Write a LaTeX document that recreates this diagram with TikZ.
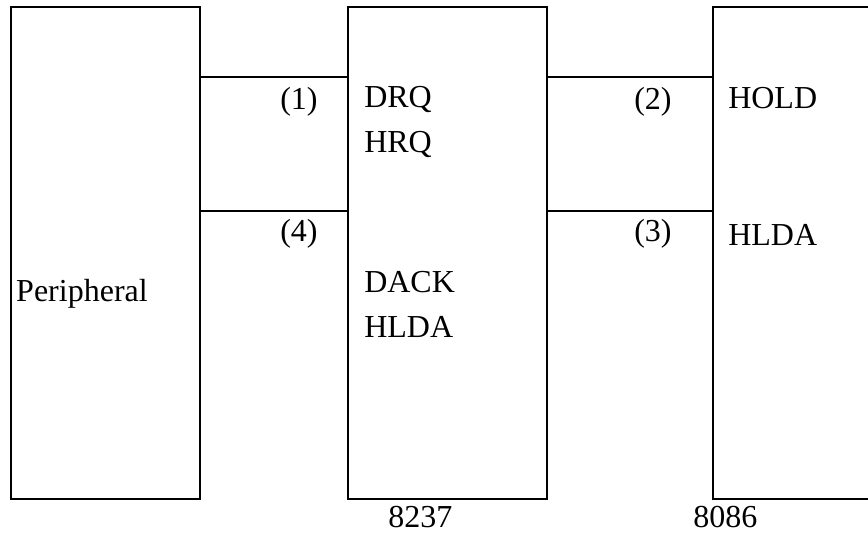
\documentclass[tikz,border=0pt]{standalone}
\usepackage{fontspec}
\setmainfont{Liberation Serif}

\begin{document}
\begin{tikzpicture}[x=1pt,y=-1pt,line width=2.5pt,
  chip/.style={draw,rectangle,inner sep=0pt,outer sep=0pt,minimum height=492pt},
  lbl/.style={anchor=base west,inner sep=0pt,font=\fontsize{32}{38}\selectfont}]
\useasboundingbox (0,0) rectangle (868,534);
% ---------- boxes ----------
% top 7, bottom 499; cpu box runs off the right edge
\node[chip,minimum width=189pt] (periph) at (105.5,253) {};
\node[chip,minimum width=199pt] (dma)    at (447.5,253) {};
\node[chip,minimum width=200pt] (cpu)    at (813,253)   {};
% ---------- lines between boxes ----------
\path (periph.north east) ++(0,70)  coordinate (p1);
\path (periph.north east) ++(0,204) coordinate (p4);
\path (dma.north east)    ++(0,70)  coordinate (d2);
\path (dma.north east)    ++(0,204) coordinate (d3);
\draw (p1) -- (p1 -| dma.west);
\draw (p4) -- (p4 -| dma.west);
\draw (d2) -- (d2 -| cpu.west);
\draw (d3) -- (d3 -| cpu.west);
% ---------- labels ----------
\node[lbl] (tperiph) at (15,302)  {Peripheral};
\node[lbl] (n1)      at (279,110) {(1)};
\node[lbl] (n4)      at (279,242) {(4)};
\node[lbl] (n2)      at (633,110) {(2)};
\node[lbl] (n3)      at (633,242) {(3)};
\node[lbl] (drq)     at (363,108) {DRQ};
\node[lbl] (hrq)     at (363,153) {HRQ};
\node[lbl] (dack)    at (363,293) {DACK};
\node[lbl] (hldaa)   at (363,338) {HLDA};
\node[lbl] (hold)    at (727,109) {HOLD};
\node[lbl] (hldab)   at (727,246) {HLDA};
\node[lbl] (tdma)    at (387,528) {8237};
\node[lbl] (tcpu)    at (692,528) {8086};
\end{tikzpicture}
\end{document}
